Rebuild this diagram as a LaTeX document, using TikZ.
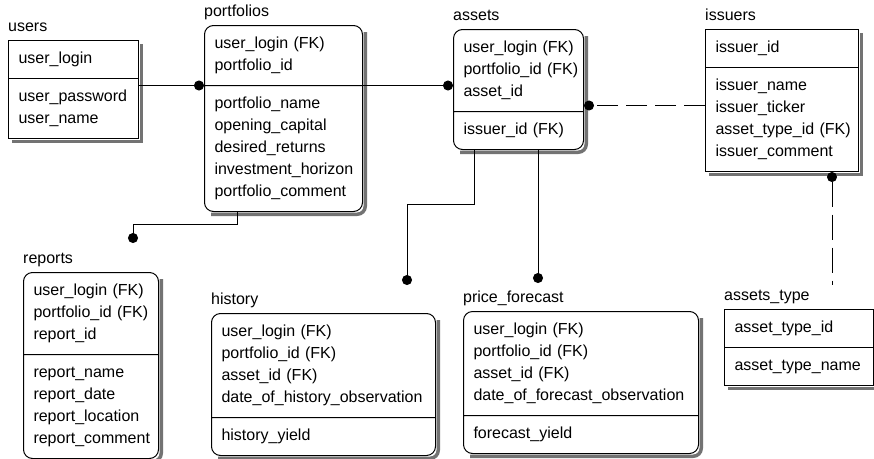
\documentclass[tikz,border=0pt]{standalone}
\usepackage{fontspec}
\setmainfont{Liberation Sans}
\usetikzlibrary{shapes.multipart,arrows.meta}
\newcommand\nl{\\\strut}

\begin{document}
\begin{tikzpicture}[x=1pt,y=-1pt]
\useasboundingbox (0,0) rectangle (874,458);
\tikzset{entity/.style={rectangle split, rectangle split parts=2, draw, line width=1pt, fill=white,
  text width=#1, align=left, inner xsep=10pt, inner ysep=7.5pt, anchor=north west,
  font=\fontsize{16}{22}\selectfont}}
\tikzset{dependent/.style={entity=#1, rounded corners=9pt}}
\tikzset{ename/.style={anchor=base west, inner sep=0, font=\fontsize{16}{22}\selectfont}}
\tikzset{eshadow/.style={draw=black!55, line width=3.5pt}}
\tikzset{ident/.style={line width=1pt, -{Circle[length=10pt]}}}
\tikzset{nonident/.style={ident, dash pattern=on #1 off 8pt}, nonident/.default=21pt}
% entities
\node[entity=110pt] (users) at (8,40) {\strut user\_login
  \nodepart{two}\strut user\_password\nl user\_name};
\node[dependent=138pt] (portfolios) at (204,25) {\strut user\_login~(FK)\nl portfolio\_id
  \nodepart{two}\strut portfolio\_name\nl opening\_capital\nl desired\_returns\nl investment\_horizon\nl portfolio\_comment};
\node[dependent=110pt] (assets) at (453,29) {\strut user\_login~(FK)\nl portfolio\_id~(FK)\nl asset\_id
  \nodepart{two}\strut issuer\_id~(FK)};
\node[entity=133pt] (issuers) at (705,29) {\strut issuer\_id
  \nodepart{two}\strut issuer\_name\nl issuer\_ticker\nl asset\_type\_id~(FK)\nl issuer\_comment};
\node[dependent=115pt] (reports) at (23,272) {\strut user\_login~(FK)\nl portfolio\_id~(FK)\nl report\_id
  \nodepart{two}\strut report\_name\nl report\_date\nl report\_location\nl report\_comment};
\node[dependent=204pt] (history) at (211,313) {\strut user\_login~(FK)\nl portfolio\_id~(FK)\nl asset\_id~(FK)\nl date\_of\_history\_observation
  \nodepart{two}\strut history\_yield};
\node[dependent=215pt] (forecast) at (463,311) {\strut user\_login~(FK)\nl portfolio\_id~(FK)\nl asset\_id~(FK)\nl date\_of\_forecast\_observation
  \nodepart{two}\strut forecast\_yield};
\node[entity=129pt] (atype) at (724,309) {\strut asset\_type\_id
  \nodepart{two}\strut asset\_type\_name};
% shadows along the right and bottom edges
\foreach \e in {users,issuers,atype}
  \draw[eshadow] ([shift={(2.25,4)}]\e.north east) -- ([shift={(2.25,2.25)}]\e.south east) -- ([shift={(4,2.25)}]\e.south west);
\foreach \e in {portfolios,assets,reports,history,forecast}
  \draw[eshadow, rounded corners=8pt] ([shift={(2.25,7)}]\e.north east) -- ([shift={(2.25,2.25)}]\e.south east) -- ([shift={(7,2.25)}]\e.south west);
% entity names
\node[ename] (usersT) at ([yshift=9pt]users.north west) {users};
\node[ename] (portfoliosT) at ([yshift=9pt]portfolios.north west) {portfolios};
\node[ename] (assetsT) at ([yshift=9pt]assets.north west) {assets};
\node[ename] (issuersT) at ([yshift=9pt]issuers.north west) {issuers};
\node[ename] (reportsT) at ([yshift=9pt]reports.north west) {reports};
\node[ename] (historyT) at ([yshift=9pt]history.north west) {history};
\node[ename] (forecastT) at ([yshift=9pt]forecast.north west) {price\_forecast};
\node[ename] (atypeT) at ([yshift=9pt]atype.north west) {assets\_type};
% relationships
\coordinate (reportsEnd) at ([shift={(110,-29)}]reports.north west);
\coordinate (historyEnd) at ([shift={(196,-28)}]history.north west);
\coordinate (forecastEnd) at ([shift={(75,-28)}]forecast.north west);
\coordinate (atypeEnd) at ([shift={(108,-24)}]atype.north west);
\coordinate (assetsFK) at ([yshift=6pt]assets.text split east);
\coordinate (issuersFK) at ([xshift=127pt]issuers.south west);
\draw[ident] (users.east |- portfolios.text split west) -- (portfolios.text split west);
\draw[ident] (portfolios.text split east) -- (portfolios.text split east -| assets.west);
\draw[ident] ([xshift=33pt]portfolios.south west) -- ++(0,12) -| (reportsEnd);
\draw[ident] ([xshift=21pt]assets.south west) -- ++(0,54) -| (historyEnd);
\draw[ident] ([xshift=85pt]assets.south west) -- ([xshift=85pt]assets.south west |- forecastEnd);
\draw[nonident] (assetsFK -| issuers.west) -- (assetsFK);
\draw[nonident=25pt, {Circle[length=10pt]}-] (issuersFK) -- (issuersFK |- atypeEnd);
\end{tikzpicture}
\end{document}
